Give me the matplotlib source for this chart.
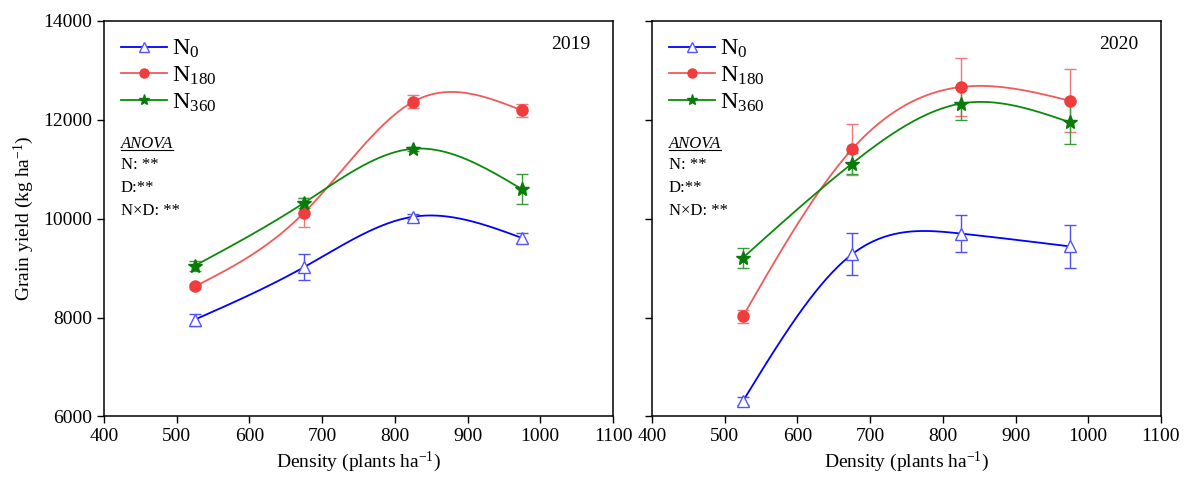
import numpy as np
import matplotlib
matplotlib.use('Agg')
import matplotlib.pyplot as plt
from matplotlib.lines import Line2D

plt.rcParams['font.family'] = ['Liberation Serif', 'DejaVu Serif']
plt.rcParams['mathtext.fontset'] = 'custom'
plt.rcParams['mathtext.rm'] = 'Liberation Serif'
plt.rcParams['mathtext.it'] = 'Liberation Serif:italic'

# --- data ---
density = [525, 675, 825, 975]

years = ['2019', '2020']

n0_2019 = [7960, 9020, 10040, 9610]
n0_2019_err = [120, 260, 50, 100]
n180_2019 = [8630, 10120, 12365, 12190]
n180_2019_err = [50, 290, 135, 130]
n360_2019 = [9050, 10320, 11415, 10595]
n360_2019_err = [100, 100, 45, 300]

n0_2020 = [6310, 9280, 9700, 9440]
n0_2020_err = [80, 425, 380, 440]
n180_2020 = [8025, 11405, 12665, 12385]
n180_2020_err = [125, 520, 590, 640]
n360_2020 = [9210, 11115, 12330, 11950]
n360_2020_err = [200, 220, 325, 445]

labels = ['N$_{0}$', 'N$_{180}$', 'N$_{360}$']
anova_lines = ['N: **', 'D:**', 'N\u00d7D: **']


def natural_spline(x, y, xs):
    # natural cubic spline, used only to draw the smooth connecting line
    x = np.asarray(x, float)
    y = np.asarray(y, float)
    n = len(x)
    h = np.diff(x)
    A = np.zeros((n, n))
    b = np.zeros(n)
    A[0, 0] = 1
    A[-1, -1] = 1
    for i in range(1, n - 1):
        A[i, i - 1] = h[i - 1]
        A[i, i] = 2 * (h[i - 1] + h[i])
        A[i, i + 1] = h[i]
        b[i] = 3 * ((y[i + 1] - y[i]) / h[i] - (y[i] - y[i - 1]) / h[i - 1])
    c = np.linalg.solve(A, b)
    bb = (y[1:] - y[:-1]) / h - h * (2 * c[:-1] + c[1:]) / 3
    d = (c[1:] - c[:-1]) / (3 * h)
    idx = np.clip(np.searchsorted(x, xs) - 1, 0, n - 2)
    t = xs - x[idx]
    return y[idx] + bb[idx] * t + c[idx] * t ** 2 + d[idx] * t ** 3


styles = [
    dict(line='#0000ff', mk='^', mfc='white', mec='#5555ff', ms=8, lms=6.5, ecol='#5050ee'),
    dict(line='#f05a5a', mk='o', mfc='#f03c3c', mec='#f03c3c', ms=8, lms=6.5, ecol='#f07878'),
    dict(line='#0a8a0a', mk='*', mfc='#0a7a0a', mec='#0a7a0a', ms=10, lms=8, ecol='#3a9a3a'),
]

panels = [
    ([n0_2019, n180_2019, n360_2019], [n0_2019_err, n180_2019_err, n360_2019_err]),
    ([n0_2020, n180_2020, n360_2020], [n0_2020_err, n180_2020_err, n360_2020_err]),
]

fig = plt.figure(figsize=(11.9, 4.79), dpi=100)
ax1 = fig.add_axes([0.0874, 0.1305, 0.4277, 0.8257])
ax2 = fig.add_axes([0.5479, 0.1305, 0.4277, 0.8257])
axes = [ax1, ax2]

xs = np.linspace(density[0], density[-1], 300)

for k, ax in enumerate(axes):
    vals, errs = panels[k]
    for s, v, e in zip(styles, vals, errs):
        ax.plot(xs, natural_spline(density, v, xs), color=s['line'], lw=1.3, zorder=2)
        ax.errorbar(density, v, yerr=e, fmt='none', ecolor=s['ecol'], elinewidth=1.0,
                    capsize=4, capthick=1.0, zorder=3)
        ax.plot(density, v, linestyle='none', marker=s['mk'], ms=s['ms'],
                mfc=s['mfc'], mec=s['mec'], mew=1.0, zorder=4)

    ax.set_xlim(400, 1100)
    ax.set_ylim(6000, 14000)
    ax.set_xticks(range(400, 1101, 100))
    ax.set_yticks(range(6000, 14001, 2000))
    ax.tick_params(direction='out', length=5, width=1, labelsize=14)
    for sp in ax.spines.values():
        sp.set_linewidth(1.1)
    ax.set_xlabel('Density (plants ha$^{-1}$)', fontsize=14, labelpad=3)

    handles = [Line2D([], [], color=s['line'], lw=1.3, marker=s['mk'], ms=s['lms'],
                      mfc=s['mfc'], mec=s['mec']) for s in styles]
    ax.legend(handles, labels, loc='upper left', frameon=False, fontsize=17.5,
              handlelength=1.9, handletextpad=0.2, labelspacing=0.18,
              borderaxespad=0.3, bbox_to_anchor=(0.0, 1.0))

    ax.text(0.955, 0.94, years[k], transform=ax.transAxes, ha='right', va='center',
            fontsize=14)

    ax.text(0.033, 0.69, 'ANOVA', transform=ax.transAxes, fontsize=12,
            style='italic', va='center', ha='left')
    for j, t in enumerate(anova_lines):
        ax.text(0.033, 0.635 - j * 0.058, t, transform=ax.transAxes, fontsize=12,
                va='center', ha='left')

ax1.set_ylabel('Grain yield (kg ha$^{-1}$)', fontsize=14, labelpad=5)
ax2.tick_params(labelleft=False)

# underline the ANOVA heading
fig.canvas.draw()
r = fig.canvas.get_renderer()
for ax in axes:
    for t in ax.texts:
        if t.get_text() == 'ANOVA':
            bb = t.get_window_extent(r)
            inv = ax.transAxes.inverted()
            (x0, y0), (x1, _) = inv.transform([(bb.x0, bb.y0), (bb.x1, bb.y0)])
            ax.plot([x0, x1], [y0 + 0.005, y0 + 0.005], transform=ax.transAxes,
                    color='black', lw=0.8, clip_on=False)

fig.savefig('out.png', dpi=100)
